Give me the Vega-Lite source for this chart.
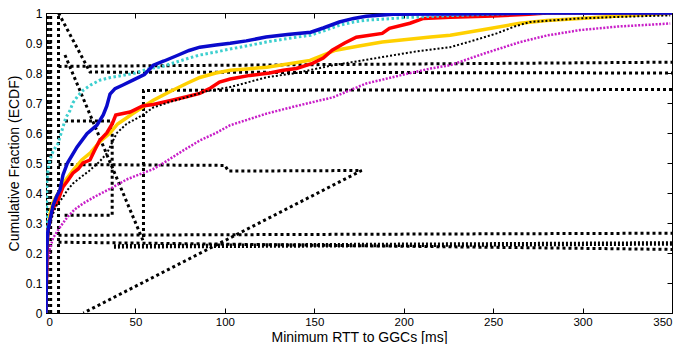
{
  "$schema": "https://vega.github.io/schema/vega-lite/v6.json",
  "width": 626,
  "height": 300,
  "autosize": {"type": "none"},
  "padding": {"left": 46, "top": 13, "right": 10, "bottom": 31},
  "background": "white",
  "config": {
    "view": {"stroke": "black", "strokeWidth": 1},
    "font": "Liberation Sans",
    "axis": {
      "grid": false,
      "domainColor": "black",
      "tickColor": "black",
      "tickSize": -5,
      "labelColor": "black",
      "labelFontSize": 12,
      "labelFont": "Liberation Sans",
      "titleFont": "Liberation Sans",
      "titleFontSize": 14,
      "titleFontWeight": "normal",
      "titleColor": "black"
    }
  },
  "datasets": {
    "curves": [
      {"s": "b", "x": 0, "y": 0}, {"s": "b", "x": 0.2, "y": 0.12}, {"s": "b", "x": 0.5, "y": 0.22}, {"s": "b", "x": 1, "y": 0.27}, {"s": "b", "x": 2.2, "y": 0.31}, {"s": "b", "x": 4, "y": 0.36}, {"s": "b", "x": 6, "y": 0.39}, {"s": "b", "x": 7.8, "y": 0.41}, {"s": "b", "x": 9.5, "y": 0.46}, {"s": "b", "x": 12, "y": 0.5}, {"s": "b", "x": 17.3, "y": 0.553}, {"s": "b", "x": 22.9, "y": 0.598}, {"s": "b", "x": 28.5, "y": 0.626}, {"s": "b", "x": 32, "y": 0.66}, {"s": "b", "x": 34, "y": 0.69}, {"s": "b", "x": 35.8, "y": 0.73}, {"s": "b", "x": 38.6, "y": 0.748}, {"s": "b", "x": 43, "y": 0.76}, {"s": "b", "x": 48.6, "y": 0.776}, {"s": "b", "x": 55, "y": 0.795}, {"s": "b", "x": 60, "y": 0.826}, {"s": "b", "x": 66, "y": 0.84}, {"s": "b", "x": 74, "y": 0.86}, {"s": "b", "x": 80, "y": 0.875}, {"s": "b", "x": 86, "y": 0.886}, {"s": "b", "x": 95, "y": 0.893}, {"s": "b", "x": 103, "y": 0.899}, {"s": "b", "x": 112, "y": 0.907}, {"s": "b", "x": 123, "y": 0.92}, {"s": "b", "x": 135, "y": 0.928}, {"s": "b", "x": 148, "y": 0.936}, {"s": "b", "x": 155, "y": 0.95}, {"s": "b", "x": 164, "y": 0.97}, {"s": "b", "x": 172, "y": 0.982}, {"s": "b", "x": 179, "y": 0.989}, {"s": "b", "x": 194, "y": 0.996}, {"s": "b", "x": 226, "y": 0.997}, {"s": "b", "x": 260, "y": 0.998}, {"s": "b", "x": 275, "y": 1.0}, {"s": "b", "x": 350, "y": 1.0},

      {"s": "c", "x": 0, "y": 0}, {"s": "c", "x": 0.1, "y": 0.2}, {"s": "c", "x": 0.3, "y": 0.33}, {"s": "c", "x": 0.5, "y": 0.44}, {"s": "c", "x": 1, "y": 0.47}, {"s": "c", "x": 2.2, "y": 0.51}, {"s": "c", "x": 4, "y": 0.54}, {"s": "c", "x": 6.7, "y": 0.565}, {"s": "c", "x": 9, "y": 0.61}, {"s": "c", "x": 11, "y": 0.65}, {"s": "c", "x": 13.4, "y": 0.675}, {"s": "c", "x": 15, "y": 0.7}, {"s": "c", "x": 18, "y": 0.725}, {"s": "c", "x": 20.7, "y": 0.742}, {"s": "c", "x": 25, "y": 0.76}, {"s": "c", "x": 30, "y": 0.776}, {"s": "c", "x": 36, "y": 0.785}, {"s": "c", "x": 43, "y": 0.792}, {"s": "c", "x": 50, "y": 0.8}, {"s": "c", "x": 58, "y": 0.815}, {"s": "c", "x": 64, "y": 0.82}, {"s": "c", "x": 72, "y": 0.835}, {"s": "c", "x": 80, "y": 0.85}, {"s": "c", "x": 86, "y": 0.86}, {"s": "c", "x": 95, "y": 0.87}, {"s": "c", "x": 103, "y": 0.88}, {"s": "c", "x": 112, "y": 0.89}, {"s": "c", "x": 123, "y": 0.903}, {"s": "c", "x": 135, "y": 0.915}, {"s": "c", "x": 148, "y": 0.926}, {"s": "c", "x": 155, "y": 0.94}, {"s": "c", "x": 164, "y": 0.959}, {"s": "c", "x": 172, "y": 0.97}, {"s": "c", "x": 179, "y": 0.976}, {"s": "c", "x": 190, "y": 0.98}, {"s": "c", "x": 201, "y": 0.985}, {"s": "c", "x": 220, "y": 0.99}, {"s": "c", "x": 245, "y": 0.995}, {"s": "c", "x": 270, "y": 1.0}, {"s": "c", "x": 350, "y": 1.0},

      {"s": "r", "x": 0, "y": 0}, {"s": "r", "x": 0.2, "y": 0.1}, {"s": "r", "x": 0.5, "y": 0.2}, {"s": "r", "x": 1, "y": 0.27}, {"s": "r", "x": 2.2, "y": 0.31}, {"s": "r", "x": 4, "y": 0.35}, {"s": "r", "x": 6.7, "y": 0.375}, {"s": "r", "x": 9.5, "y": 0.42}, {"s": "r", "x": 12, "y": 0.44}, {"s": "r", "x": 15, "y": 0.466}, {"s": "r", "x": 18, "y": 0.48}, {"s": "r", "x": 20.7, "y": 0.5}, {"s": "r", "x": 24.6, "y": 0.51}, {"s": "r", "x": 27, "y": 0.54}, {"s": "r", "x": 30, "y": 0.575}, {"s": "r", "x": 34, "y": 0.6}, {"s": "r", "x": 37, "y": 0.63}, {"s": "r", "x": 39, "y": 0.66}, {"s": "r", "x": 43, "y": 0.665}, {"s": "r", "x": 47, "y": 0.67}, {"s": "r", "x": 54, "y": 0.69}, {"s": "r", "x": 60, "y": 0.695}, {"s": "r", "x": 71, "y": 0.71}, {"s": "r", "x": 78, "y": 0.72}, {"s": "r", "x": 86, "y": 0.732}, {"s": "r", "x": 92, "y": 0.75}, {"s": "r", "x": 97, "y": 0.77}, {"s": "r", "x": 103, "y": 0.78}, {"s": "r", "x": 114, "y": 0.792}, {"s": "r", "x": 125, "y": 0.8}, {"s": "r", "x": 132.6, "y": 0.809}, {"s": "r", "x": 140, "y": 0.815}, {"s": "r", "x": 149, "y": 0.832}, {"s": "r", "x": 155, "y": 0.85}, {"s": "r", "x": 160, "y": 0.876}, {"s": "r", "x": 167, "y": 0.9}, {"s": "r", "x": 173.5, "y": 0.919}, {"s": "r", "x": 188, "y": 0.932}, {"s": "r", "x": 192, "y": 0.949}, {"s": "r", "x": 203.5, "y": 0.966}, {"s": "r", "x": 211, "y": 0.982}, {"s": "r", "x": 226, "y": 0.986}, {"s": "r", "x": 250, "y": 0.99}, {"s": "r", "x": 270, "y": 0.996}, {"s": "r", "x": 280, "y": 1.0}, {"s": "r", "x": 350, "y": 1.0},

      {"s": "y", "x": 0, "y": 0}, {"s": "y", "x": 0.3, "y": 0.15}, {"s": "y", "x": 1, "y": 0.27}, {"s": "y", "x": 2.2, "y": 0.33}, {"s": "y", "x": 4, "y": 0.37}, {"s": "y", "x": 7.8, "y": 0.41}, {"s": "y", "x": 10, "y": 0.435}, {"s": "y", "x": 15, "y": 0.475}, {"s": "y", "x": 20, "y": 0.51}, {"s": "y", "x": 25, "y": 0.535}, {"s": "y", "x": 30, "y": 0.57}, {"s": "y", "x": 35.8, "y": 0.6}, {"s": "y", "x": 40, "y": 0.63}, {"s": "y", "x": 45, "y": 0.65}, {"s": "y", "x": 48.6, "y": 0.665}, {"s": "y", "x": 55, "y": 0.69}, {"s": "y", "x": 60, "y": 0.709}, {"s": "y", "x": 70, "y": 0.74}, {"s": "y", "x": 78.6, "y": 0.765}, {"s": "y", "x": 86, "y": 0.785}, {"s": "y", "x": 95, "y": 0.8}, {"s": "y", "x": 103, "y": 0.809}, {"s": "y", "x": 123.5, "y": 0.819}, {"s": "y", "x": 147.6, "y": 0.842}, {"s": "y", "x": 155, "y": 0.86}, {"s": "y", "x": 162, "y": 0.876}, {"s": "y", "x": 175, "y": 0.89}, {"s": "y", "x": 188, "y": 0.903}, {"s": "y", "x": 215, "y": 0.92}, {"s": "y", "x": 226, "y": 0.926}, {"s": "y", "x": 245, "y": 0.945}, {"s": "y", "x": 265, "y": 0.966}, {"s": "y", "x": 280, "y": 0.975}, {"s": "y", "x": 298.5, "y": 0.982}, {"s": "y", "x": 320, "y": 0.99}, {"s": "y", "x": 349, "y": 0.998},

      {"s": "k", "x": 0, "y": 0}, {"s": "k", "x": 0.5, "y": 0.2}, {"s": "k", "x": 1, "y": 0.25}, {"s": "k", "x": 2, "y": 0.29}, {"s": "k", "x": 4, "y": 0.332}, {"s": "k", "x": 6, "y": 0.36}, {"s": "k", "x": 9.5, "y": 0.386}, {"s": "k", "x": 12, "y": 0.41}, {"s": "k", "x": 15.1, "y": 0.432}, {"s": "k", "x": 20, "y": 0.455}, {"s": "k", "x": 24.6, "y": 0.476}, {"s": "k", "x": 30, "y": 0.505}, {"s": "k", "x": 34, "y": 0.532}, {"s": "k", "x": 39.6, "y": 0.6}, {"s": "k", "x": 45, "y": 0.63}, {"s": "k", "x": 52.6, "y": 0.655}, {"s": "k", "x": 60, "y": 0.685}, {"s": "k", "x": 70, "y": 0.705}, {"s": "k", "x": 78.6, "y": 0.719}, {"s": "k", "x": 90, "y": 0.74}, {"s": "k", "x": 103, "y": 0.753}, {"s": "k", "x": 123.5, "y": 0.786}, {"s": "k", "x": 140, "y": 0.8}, {"s": "k", "x": 160.5, "y": 0.826}, {"s": "k", "x": 175, "y": 0.84}, {"s": "k", "x": 188, "y": 0.853}, {"s": "k", "x": 205, "y": 0.87}, {"s": "k", "x": 226, "y": 0.886}, {"s": "k", "x": 240, "y": 0.91}, {"s": "k", "x": 252, "y": 0.932}, {"s": "k", "x": 262, "y": 0.955}, {"s": "k", "x": 270.6, "y": 0.97}, {"s": "k", "x": 298.5, "y": 0.982}, {"s": "k", "x": 320, "y": 0.987}, {"s": "k", "x": 349, "y": 0.992},

      {"s": "m", "x": 0, "y": 0}, {"s": "m", "x": 0.5, "y": 0.1}, {"s": "m", "x": 1, "y": 0.17}, {"s": "m", "x": 2.2, "y": 0.215}, {"s": "m", "x": 4, "y": 0.25}, {"s": "m", "x": 7.8, "y": 0.286}, {"s": "m", "x": 12, "y": 0.32}, {"s": "m", "x": 16, "y": 0.345}, {"s": "m", "x": 20.7, "y": 0.365}, {"s": "m", "x": 28, "y": 0.39}, {"s": "m", "x": 37.4, "y": 0.419}, {"s": "m", "x": 45, "y": 0.445}, {"s": "m", "x": 54, "y": 0.466}, {"s": "m", "x": 60, "y": 0.48}, {"s": "m", "x": 65.4, "y": 0.499}, {"s": "m", "x": 76.8, "y": 0.542}, {"s": "m", "x": 86, "y": 0.575}, {"s": "m", "x": 95, "y": 0.6}, {"s": "m", "x": 103, "y": 0.626}, {"s": "m", "x": 123.5, "y": 0.665}, {"s": "m", "x": 140, "y": 0.69}, {"s": "m", "x": 160.5, "y": 0.719}, {"s": "m", "x": 179, "y": 0.765}, {"s": "m", "x": 198, "y": 0.792}, {"s": "m", "x": 215, "y": 0.815}, {"s": "m", "x": 226, "y": 0.826}, {"s": "m", "x": 245, "y": 0.865}, {"s": "m", "x": 265, "y": 0.903}, {"s": "m", "x": 280, "y": 0.925}, {"s": "m", "x": 298.5, "y": 0.943}, {"s": "m", "x": 320, "y": 0.955}, {"s": "m", "x": 349, "y": 0.965}
    ],
    "struct": [
      {"g": "v0a", "o": 0, "x": 0.8, "y": 0}, {"g": "v0a", "o": 1, "x": 0.8, "y": 1},
      {"g": "v0b", "o": 0, "x": 2.6, "y": 0}, {"g": "v0b", "o": 1, "x": 2.6, "y": 1},
      {"g": "a", "o": 0, "x": 7, "y": 0}, {"g": "a", "o": 1, "x": 7, "y": 1}, {"g": "a", "o": 2, "x": 24.6, "y": 0.803}, {"g": "a", "o": 3, "x": 350, "y": 0.8},
      {"g": "b", "o": 0, "x": 7, "y": 0.822}, {"g": "b", "o": 1, "x": 350, "y": 0.836},
      {"g": "c", "o": 0, "x": 10.6, "y": 0.86}, {"g": "c", "o": 1, "x": 54.2, "y": 0.242},
      {"g": "d", "o": 0, "x": 350, "y": 0.745}, {"g": "d", "o": 1, "x": 54.5, "y": 0.742}, {"g": "d", "o": 2, "x": 54.5, "y": 0.25},
      {"g": "e", "o": 0, "x": 10.6, "y": 0.64}, {"g": "e", "o": 1, "x": 37, "y": 0.64}, {"g": "e", "o": 2, "x": 37, "y": 0.326}, {"g": "e", "o": 3, "x": 9, "y": 0.326},
      {"g": "f", "o": 0, "x": 7, "y": 0.495}, {"g": "f", "o": 1, "x": 100, "y": 0.492}, {"g": "f", "o": 2, "x": 102, "y": 0.473}, {"g": "f", "o": 3, "x": 176.5, "y": 0.475}, {"g": "f", "o": 4, "x": 20.9, "y": 0},
      {"g": "h", "o": 0, "x": 7, "y": 0.259}, {"g": "h", "o": 1, "x": 350, "y": 0.266},
      {"g": "i", "o": 0, "x": 7, "y": 0.236}, {"g": "i", "o": 1, "x": 350, "y": 0.212},
      {"g": "bold", "o": 0, "x": 38, "y": 0.222}, {"g": "bold", "o": 1, "x": 350, "y": 0.232}
    ]
  },
  "resolve": {"axis": {"x": "independent", "y": "independent"}},
  "encoding": {
    "x": {"field": "x", "type": "quantitative", "scale": {"domain": [0, 350], "nice": false, "zero": false}, "axis": null},
    "y": {"field": "y", "type": "quantitative", "scale": {"domain": [0, 1], "nice": false}, "axis": null}
  },
  "layer": [
    {
      "data": {"name": "struct"},
      "transform": [{"filter": "datum.g != 'bold'"}],
      "mark": {"type": "line", "color": "black", "strokeWidth": 3, "strokeDash": [3, 3], "clip": true},
      "encoding": {
        "x": {"field": "x", "type": "quantitative", "scale": {"domain": [0, 350], "nice": false, "zero": false},
              "axis": {"orient": "bottom", "values": [0, 50, 100, 150, 200, 250, 300, 350], "labelPadding": 8, "labelFontSize": 11.5, "title": "Minimum RTT to GGCs [ms]", "titlePadding": 3}},
        "y": {"field": "y", "type": "quantitative", "scale": {"domain": [0, 1], "nice": false},
              "axis": {"orient": "left", "values": [0, 0.1, 0.2, 0.3, 0.4, 0.5, 0.6, 0.7, 0.8, 0.9, 1], "format": "~g", "labelPadding": 9, "title": "Cumulative Fraction (ECDF)", "titlePadding": 4}},
        "detail": {"field": "g"},
        "order": {"field": "o", "type": "quantitative"}
      }
    },
    {
      "data": {"name": "struct"},
      "transform": [{"filter": "datum.g == 'bold'"}],
      "mark": {"type": "line", "color": "black", "strokeWidth": 4.5, "strokeDash": [2, 2], "clip": true},
      "encoding": {
        "x": {"field": "x", "type": "quantitative", "scale": {"domain": [0, 350], "nice": false, "zero": false},
              "axis": {"orient": "top", "values": [0, 50, 100, 150, 200, 250, 300, 350], "labels": false, "title": null, "domain": false}},
        "y": {"field": "y", "type": "quantitative", "scale": {"domain": [0, 1], "nice": false},
              "axis": {"orient": "right", "values": [0, 0.1, 0.2, 0.3, 0.4, 0.5, 0.6, 0.7, 0.8, 0.9, 1], "labels": false, "title": null, "domain": false}},
        "order": {"field": "o", "type": "quantitative"}
      }
    },
    {
      "data": {"name": "curves"},
      "transform": [{"filter": "datum.s == 'm'"}],
      "mark": {"type": "line", "color": "#c81ec8", "strokeWidth": 2.5, "strokeDash": [2, 1.5], "clip": true}
    },
    {
      "data": {"name": "curves"},
      "transform": [{"filter": "datum.s == 'y'"}],
      "mark": {"type": "line", "color": "#ffd000", "strokeWidth": 3.5, "clip": true}
    },
    {
      "data": {"name": "curves"},
      "transform": [{"filter": "datum.s == 'r'"}],
      "mark": {"type": "line", "color": "#ff0000", "strokeWidth": 3.5, "clip": true}
    },
    {
      "data": {"name": "curves"},
      "transform": [{"filter": "datum.s == 'k'"}],
      "mark": {"type": "line", "color": "black", "strokeWidth": 2, "strokeDash": [2, 2], "clip": true}
    },
    {
      "data": {"name": "curves"},
      "transform": [{"filter": "datum.s == 'c'"}],
      "mark": {"type": "line", "color": "#3ccfcf", "strokeWidth": 3, "strokeDash": [2.5, 2.5], "clip": true}
    },
    {
      "data": {"name": "curves"},
      "transform": [{"filter": "datum.s == 'b'"}],
      "mark": {"type": "line", "color": "#0a0acc", "strokeWidth": 3.5, "clip": true}
    }
  ]
}
